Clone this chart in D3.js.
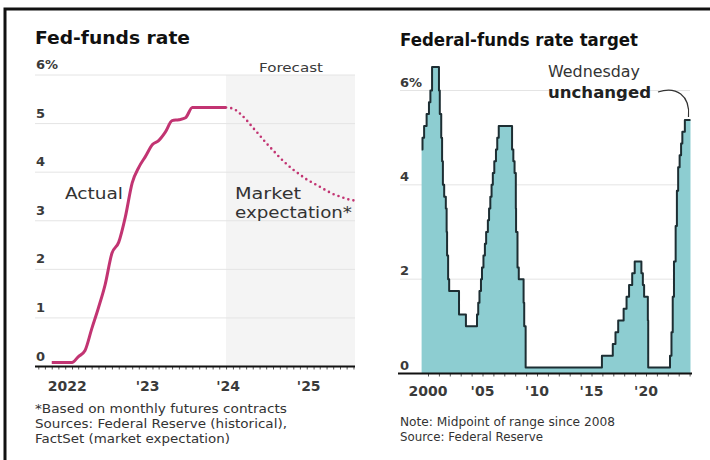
<!DOCTYPE html>
<html>
<head>
<meta charset="utf-8">
<script src="https://cdn.jsdelivr.net/npm/d3@7"></script>
<style>
  html, body { margin: 0; padding: 0; background: #fff; }
  svg { display: block; font-family: "DejaVu Sans", "Noto Sans", sans-serif; }
</style>
</head>
<body>
<svg id="chart" width="710" height="460"></svg>
<script>
// ---- Left panel: effective fed-funds rate, monthly ----
const actualMonths = ["2021-11","2021-12","2022-01","2022-02","2022-03","2022-04","2022-05","2022-06",
  "2022-07","2022-08","2022-09","2022-10","2022-11","2022-12","2023-01","2023-02","2023-03","2023-04",
  "2023-05","2023-06","2023-07","2023-08","2023-09","2023-10","2023-11","2023-12","2024-01"];
const actualValues = [0.08,0.08,0.08,0.08,0.20,0.33,0.77,1.21,1.68,2.33,2.56,3.08,3.78,4.10,4.33,4.57,
  4.65,4.83,5.06,5.08,5.12,5.33,5.33,5.33,5.33,5.33,5.33];

// Market expectation from futures contracts
const forecastMonths = ["2024-01","2024-02","2024-03","2024-04","2024-05","2024-06","2024-07","2024-08",
  "2024-09","2024-10","2024-11","2024-12","2025-01","2025-02","2025-03","2025-04","2025-05","2025-06",
  "2025-07","2025-08"];
const forecastValues = [5.33,5.31,5.22,5.08,4.92,4.76,4.60,4.45,4.30,4.17,4.05,3.95,3.85,3.77,3.70,
  3.62,3.55,3.50,3.45,3.42];

const leftYTicks = [0,1,2,3,4,5,6];
const leftXLabels = [["2022-01","2022"],["2023-01","'23"],["2024-01","'24"],["2025-01","'25"]];

// ---- Right panel: federal-funds rate target (midpoint of range since 2008), step changes ----
const targetDates = ["1999-06-01","1999-07-01","1999-08-24","1999-11-16","2000-02-02","2000-03-21",
  "2000-05-16","2001-01-03","2001-01-31","2001-03-20","2001-04-18","2001-05-15","2001-06-27",
  "2001-08-21","2001-09-17","2001-10-02","2001-11-06","2001-12-11","2002-11-06","2003-06-25",
  "2004-06-30","2004-08-10","2004-09-21","2004-11-10","2004-12-14","2005-02-02","2005-03-22",
  "2005-05-03","2005-06-30","2005-08-09","2005-09-20","2005-11-01","2005-12-13","2006-01-31",
  "2006-03-28","2006-05-10","2006-06-29","2007-09-18","2007-10-31","2007-12-11","2008-01-22",
  "2008-01-30","2008-03-18","2008-04-30","2008-10-08","2008-10-29","2008-12-16","2015-12-16",
  "2016-12-14","2017-03-15","2017-06-14","2017-12-13","2018-03-21","2018-06-13","2018-09-26",
  "2018-12-19","2019-07-31","2019-09-18","2019-10-30","2020-03-03","2020-03-15","2022-03-16",
  "2022-05-04","2022-06-15","2022-07-27","2022-09-21","2022-11-02","2022-12-14","2023-02-01",
  "2023-03-22","2023-05-03","2023-07-26","2024-01-31"];
const targetValues = [4.75,5.00,5.25,5.50,5.75,6.00,6.50,6.00,5.50,5.00,4.50,4.00,3.75,3.50,3.00,
  2.50,2.00,1.75,1.25,1.00,1.25,1.50,1.75,2.00,2.25,2.50,2.75,3.00,3.25,3.50,3.75,4.00,4.25,4.50,
  4.75,5.00,5.25,4.75,4.50,4.25,3.50,3.00,2.25,2.00,1.50,1.00,0.125,0.375,0.625,0.875,1.125,1.375,
  1.625,1.875,2.125,2.375,2.125,1.875,1.625,1.125,0.125,0.375,0.875,1.625,2.375,3.125,3.875,4.375,
  4.625,4.875,5.125,5.375,5.375];

const rightYTicks = [0,2,4,6];
const rightXLabels = [[2000,"2000"],[2005,"'05"],[2010,"'10"],[2015,"'15"],[2020,"'20"]];

// ---- Styles ----
const INK = "#111";
const LABEL = "#3a3a3a";
const GRID = "#e4e4e4";
const PINK = "#c23472";
const TEAL = "#8dcdd1";
const STEP = "#1d2e33";

const parseMonth = d3.timeParse("%Y-%m");
const parseDay = d3.timeParse("%Y-%m-%d");
const svg = d3.select("#chart");

// helper: text fitted to a given width
function label(g, x, y, str, size, weight, width, fill, anchor) {
  const t = g.append("text").attr("x", x).attr("y", y)
    .attr("font-size", size).attr("font-weight", weight).attr("fill", fill || "#333")
    .attr("text-anchor", anchor || "start").text(str);
  if (width) t.attr("textLength", width).attr("lengthAdjust", "spacingAndGlyphs");
  return t;
}

// outer frame (left and top rules)
svg.append("rect").attr("x", 5).attr("y", 9).attr("width", 720).attr("height", 470)
  .attr("fill", "none").attr("stroke", INK).attr("stroke-width", 3);

// ================= Left panel =================
const xL = d3.scaleTime()
  .domain([new Date(2021, 7, 17), new Date(2025, 7, 8)])
  .range([35, 355]);
const yL = d3.scaleLinear().domain([0, 6]).range([366.5, 75]);

const left = svg.append("g");

label(left, 35, 44, "Fed-funds rate", 17, 900, 155, INK);

// forecast shading
left.append("rect")
  .attr("x", xL(parseMonth("2024-01"))).attr("y", yL(6))
  .attr("width", 355 - xL(parseMonth("2024-01")))
  .attr("height", yL(0) - yL(6))
  .attr("fill", "#f4f4f4");

// gridlines
left.append("g").selectAll("line").data(leftYTicks.filter(v => v > 0)).join("line")
  .attr("x1", 35).attr("x2", 355)
  .attr("y1", d => yL(d)).attr("y2", d => yL(d))
  .attr("stroke", GRID).attr("stroke-width", 1);

// y labels sit above their gridlines
left.append("g").selectAll("text").data(leftYTicks).join("text")
  .attr("x", 36).attr("y", d => yL(d) - 6)
  .attr("font-size", 13).attr("font-weight", 700).attr("fill", LABEL)
  .text(d => d === 6 ? "6%" : d);

label(left, 291, 72, "Forecast", 13, 400, 64, LABEL, "middle");

// x axis with monthly ticks
const xAxisL = d3.axisBottom(xL)
  .ticks(d3.timeMonth.every(1))
  .tickSize(3)
  .tickFormat("");
const gxL = left.append("g").attr("transform", `translate(0,${yL(0)})`).call(xAxisL);
gxL.select(".domain").remove();
gxL.selectAll(".tick line").attr("stroke", "#555").attr("stroke-width", 1);
left.append("line").attr("x1", 35).attr("x2", 355).attr("y1", yL(0)).attr("y2", yL(0))
  .attr("stroke", INK).attr("stroke-width", 2);

left.append("g").selectAll("text").data(leftXLabels).join("text")
  .attr("x", d => xL(parseMonth(d[0])) + 2).attr("y", 391)
  .attr("text-anchor", "middle").attr("font-size", 14).attr("font-weight", 700).attr("fill", LABEL)
  .text(d => d[1]);

// actual line
const actual = actualMonths.map((m, i) => ({ date: parseMonth(m), value: actualValues[i] }));
const forecast = forecastMonths.map((m, i) => ({ date: parseMonth(m), value: forecastValues[i] }));
const lineL = d3.line().x(d => xL(d.date)).y(d => yL(d.value)).curve(d3.curveMonotoneX);

left.append("path").datum(actual).attr("d", lineL)
  .attr("fill", "none").attr("stroke", PINK).attr("stroke-width", 3)
  .attr("stroke-linejoin", "round");

left.append("path").datum(forecast).attr("d", lineL)
  .attr("fill", "none").attr("stroke", PINK).attr("stroke-width", 2.6)
  .attr("stroke-linecap", "round").attr("stroke-dasharray", "0,5.2");

label(left, 65, 199, "Actual", 16, 400, 58, "#333");
label(left, 235, 199, "Market", 16, 400, 66, "#333");
label(left, 235, 218, "expectation*", 16, 400, 117, "#333");

const notesL = [["*Based on monthly futures contracts", 252], ["Sources: Federal Reserve (historical),", 252],
  ["FactSet (market expectation)", 195]];
notesL.forEach((n, i) => label(left, 35, 413 + i * 15, n[0], 11.5, 400, n[1], "#333"));

// ================= Right panel =================
const yearFrac = d => d.getFullYear() + d3.timeDay.count(d3.timeYear.floor(d), d) / 365.25;
const xR = d3.scaleLinear().domain([2000, 2024]).range([428, 689.6]);
const yR = d3.scaleLinear().domain([0, 6]).range([373.5, 90.5]);

const right = svg.append("g");

label(right, 400, 46, "Federal-funds rate target", 17, 900, 238, INK);

right.append("g").selectAll("line").data(rightYTicks.filter(v => v > 0)).join("line")
  .attr("x1", 400).attr("x2", 690)
  .attr("y1", d => yR(d)).attr("y2", d => yR(d))
  .attr("stroke", GRID).attr("stroke-width", 1);

const target = targetDates.map((t, i) => ({ t: yearFrac(parseDay(t)), value: targetValues[i] }));

right.append("path").datum(target)
  .attr("d", d3.area().x(d => xR(d.t)).y0(yR(0)).y1(d => yR(d.value)).curve(d3.curveStepAfter))
  .attr("fill", TEAL);

right.append("path").datum(target)
  .attr("d", d3.line().x(d => xR(d.t)).y(d => yR(d.value)).curve(d3.curveStepAfter))
  .attr("fill", "none").attr("stroke", STEP).attr("stroke-width", 2)
  .attr("stroke-linejoin", "round");

right.append("g").selectAll("text").data(rightYTicks).join("text")
  .attr("x", 400).attr("y", d => yR(d) - 4)
  .attr("font-size", 13).attr("font-weight", 700).attr("fill", LABEL)
  .text(d => d === 6 ? "6%" : d);

// x axis with yearly ticks
const xAxisR = d3.axisBottom(xR).ticks(24).tickSize(3).tickFormat("");
const gxR = right.append("g").attr("transform", `translate(0,${yR(0)})`).call(xAxisR);
gxR.select(".domain").remove();
gxR.selectAll(".tick line").attr("stroke", "#555");
right.append("line").attr("x1", 398).attr("x2", 692).attr("y1", yR(0)).attr("y2", yR(0))
  .attr("stroke", INK).attr("stroke-width", 2);

right.append("g").selectAll("text").data(rightXLabels).join("text")
  .attr("x", d => xR(d[0])).attr("y", 396)
  .attr("text-anchor", "middle").attr("font-size", 14).attr("font-weight", 700).attr("fill", LABEL)
  .text(d => d[1]);

// annotation for the latest decision
const last = target[target.length - 1];
label(right, 548, 77, "Wednesday", 16, 400, 92, "#333");
label(right, 548, 98, "unchanged", 16, 900, 103, "#222");
const ax = xR(last.t) - 2, ay = yR(last.value) - 3;
right.append("path")
  .attr("d", `M${658},${92} C${676},${86} ${ax + 2},${95} ${ax},${ay}`)
  .attr("fill", "none").attr("stroke", "#333").attr("stroke-width", 1.2);

const notesR = [["Note: Midpoint of range since 2008", 215], ["Source: Federal Reserve", 143]];
notesR.forEach((n, i) => label(right, 400, 426 + i * 15, n[0], 11.5, 400, n[1], "#333"));
</script>
</body>
</html>
